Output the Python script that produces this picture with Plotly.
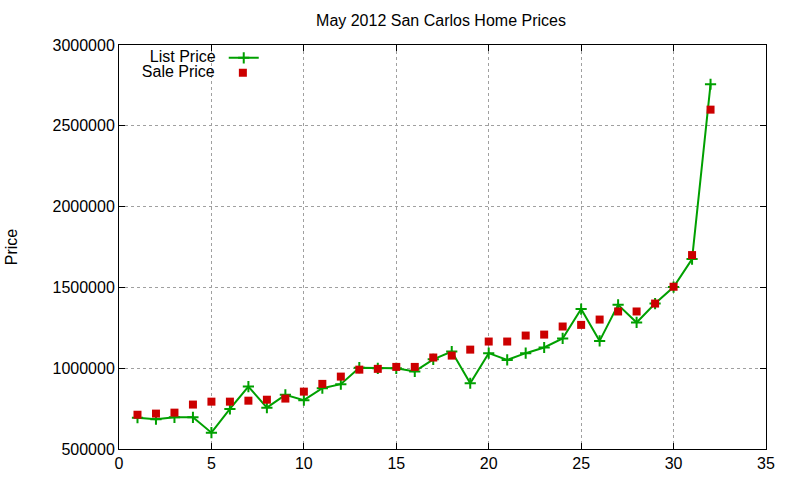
import plotly.graph_objects as go

x_vals = list(range(1, 33))
list_price = [694000, 684000, 696000, 696000, 601000, 748000, 886000, 756000, 835000, 802000,
              876000, 901000, 1003000, 999000, 999000, 980000, 1055000, 1103000, 907000, 1093000,
              1051000, 1093000, 1128000, 1184000, 1366000, 1169000, 1392000, 1283000, 1400000, 1502000,
              1675000, 2757000]
sale_price = [712000, 719000, 725000, 775000, 793000, 793000, 799000, 805000, 812000, 855000,
              903000, 948000, 991000, 996000, 1008000, 1008000, 1066000, 1078000, 1115000, 1165000,
              1165000, 1202000, 1208000, 1258000, 1268000, 1301000, 1351000, 1351000, 1400000, 1504000,
              1700000, 2600000]
x_ticks = [0, 5, 10, 15, 20, 25, 30, 35]
y_ticks = [500000, 1000000, 1500000, 2000000, 2500000, 3000000]

GREEN = "#00a000"
RED = "#cc0000"
FONT = "Liberation Sans, Arial, sans-serif"

fig = go.Figure()
fig.add_trace(go.Scatter(
    x=x_vals, y=list_price, mode="lines+markers", name="",
    line=dict(color=GREEN, width=2),
    marker=dict(symbol="cross-thin", size=8, line=dict(color=GREEN, width=2), color=GREEN),
    legend="legend",
))
fig.add_trace(go.Scatter(
    x=x_vals, y=sale_price, mode="markers", name="",
    marker=dict(symbol="square", size=8, color=RED, line=dict(width=0)),
    legend="legend2",
))

axis_common = dict(
    showline=True, linecolor="black", linewidth=1, mirror="ticks",
    ticks="inside", ticklen=6, tickcolor="black", tickwidth=1,
    showgrid=True, gridcolor="#a0a0a0", griddash="dot", gridwidth=1,
    zeroline=False, tickfont=dict(family=FONT, size=16, color="black"),
    automargin=False,
)
fig.update_xaxes(range=[0, 35], tickvals=x_ticks, ticktext=[str(v) for v in x_ticks], **axis_common)
fig.update_yaxes(range=[500000, 3000000], tickvals=y_ticks, ticktext=[str(v) for v in y_ticks],
                 title=dict(text="Price", font=dict(family=FONT, size=16, color="black"), standoff=30),
                 **axis_common)

legend_common = dict(xanchor="right", yanchor="middle", bgcolor="rgba(0,0,0,0)",
                     font=dict(family=FONT, size=16, color="black"), borderwidth=0)
fig.update_layout(
    width=800, height=480,
    margin=dict(l=119, r=34, t=45, b=31, autoexpand=False),
    paper_bgcolor="white", plot_bgcolor="white",
    title=dict(text="May 2012 San Carlos Home Prices", x=441 / 800, xanchor="center", y=1 - 20 / 480,
               yanchor="middle", font=dict(family=FONT, size=16, color="black")),
    showlegend=True,
    legend=dict(x=0.2316, y=0.968, title=dict(text="List Price", side="left",
                                                font=dict(family=FONT, size=16, color="black")),
                **legend_common),
    legend2=dict(x=0.2316, y=0.931, title=dict(text="Sale Price", side="left",
                                                 font=dict(family=FONT, size=16, color="black")),
                 **legend_common),
)

fig.write_html("out.html", config={"displayModeBar": False},
               post_script="document.body.style.margin='0px';")
